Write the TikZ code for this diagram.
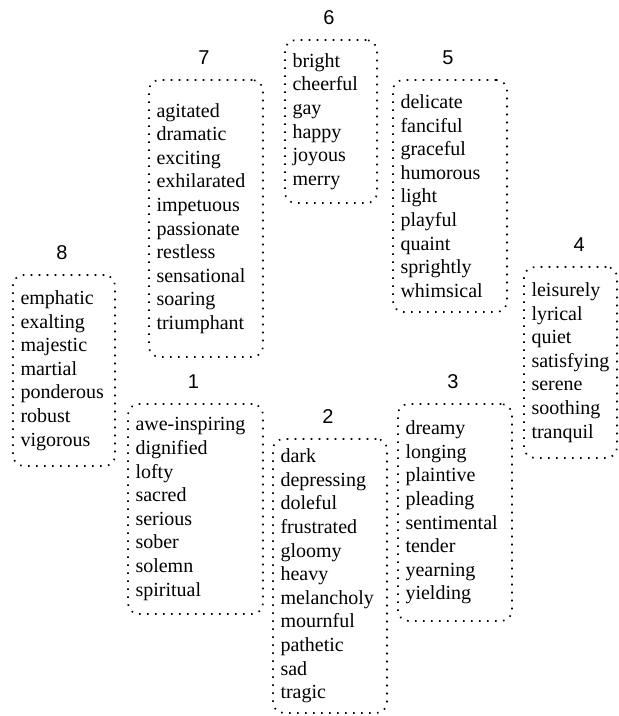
\documentclass[tikz,border=0pt]{standalone}
\usepackage{fontspec}
\setmainfont{Liberation Serif}
\newfontfamily\numfont{Liberation Sans}
\usetikzlibrary{positioning}

\begin{document}
\begin{tikzpicture}[x=0.75pt, y=-0.75pt,
    wordbox/.style={draw, line width=1.25pt, dash pattern=on 1.2pt off 4.8pt, rounded corners=8pt,
        inner xsep=5.625pt, inner ysep=0pt, align=left,
        font=\fontsize{15}{17.7}\selectfont},
    numlabel/.style={inner sep=0pt, xshift=-1.5pt, font=\numfont\fontsize{15}{18}\selectfont}]
    \useasboundingbox (0,0) rectangle (618,716);

    % Adjective groups, clockwise from the top
    \node[wordbox, text width=57.75pt, minimum height=122.25pt] (G6) at (331,121.5) {
        bright\\ cheerful\\ gay\\ happy\\ joyous\\ merry
    };

    \node[wordbox, text width=74.25pt, minimum height=174pt] (G5) at (450,196) {
        delicate\\ fanciful\\ graceful\\ humorous\\ light\\ playful\\ quaint\\ sprightly\\ whimsical
    };

    \node[wordbox, text width=58.5pt, minimum height=143.25pt] (G4) at (570.5,362.5) {
        leisurely\\ lyrical\\ quiet\\ satisfying\\ serene\\ soothing\\ tranquil
    };

    \node[wordbox, text width=74.25pt, minimum height=162.75pt] (G3) at (455,512.5) {
        dreamy\\ longing\\ plaintive\\ pleading\\ sentimental\\ tender\\ yearning\\ yielding
    };

    \node[wordbox, text width=74.25pt, minimum height=205.5pt] (G2) at (330,576) {
        dark\\ depressing\\ doleful\\ frustrated\\ gloomy\\ heavy\\ melancholy\\ mournful\\ pathetic\\ sad\\ tragic
    };

    \node[wordbox, text width=90pt, minimum height=157.5pt] (G1) at (195.5,509) {
        awe-inspiring\\ dignified\\ lofty\\ sacred\\ serious\\ sober\\ solemn\\ spiritual
    };

    \node[wordbox, text width=65.25pt, minimum height=143.25pt] (G8) at (64,370.5) {
        emphatic\\ exalting\\ majestic\\ martial\\ ponderous\\ robust\\ vigorous
    };

    \node[wordbox, text width=74.25pt, minimum height=207.75pt] (G7) at (206,218.5) {
        agitated\\ dramatic\\ exciting\\ exhilarated\\ impetuous\\ passionate\\ restless\\ sensational\\ soaring\\ triumphant
    };

    % Group numbers above the boxes
    \node[numlabel, above=11pt of G1] (L1) {1};
    \node[numlabel, above=11pt of G2] (L2) {2};
    \node[numlabel, above=11pt of G3] (L3) {3};
    \node[numlabel, above=11pt of G4, xshift=8pt] (L4) {4};
    \node[numlabel, above=11pt of G5] (L5) {5};
    \node[numlabel, above=11pt of G6] (L6) {6};
    \node[numlabel, above=11pt of G7] (L7) {7};
    \node[numlabel, above=11pt of G8] (L8) {8};

\end{tikzpicture}
\end{document}
